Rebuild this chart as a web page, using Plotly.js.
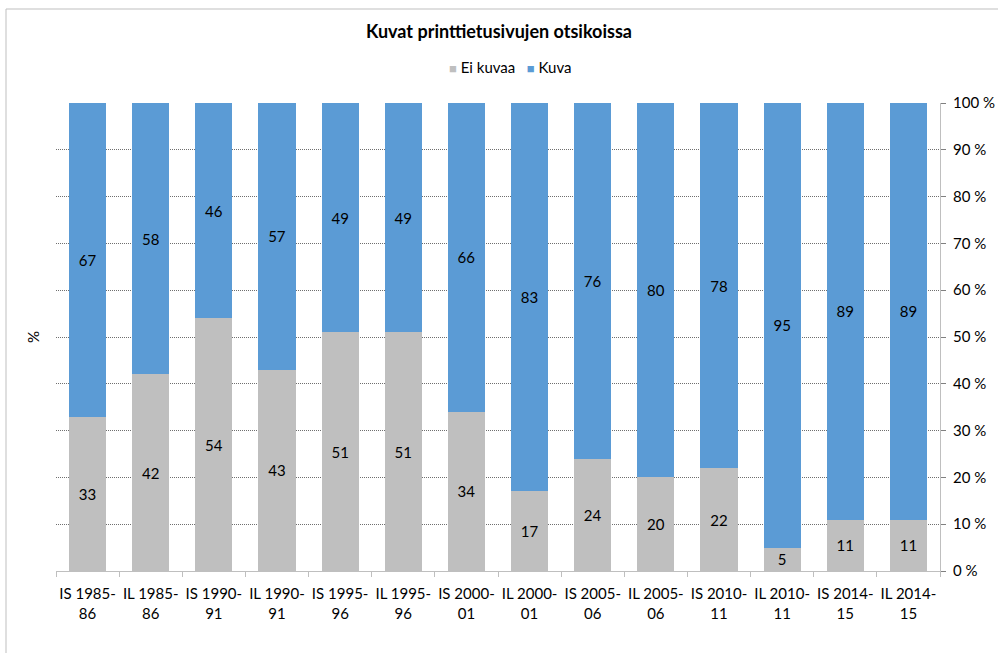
<!DOCTYPE html>
<html>
<head>
<meta charset="utf-8">
<script src="https://cdn.plot.ly/plotly-3.0.1.min.js"></script>
<style>html,body{margin:0;padding:0;background:#fff;}#chart{width:998px;height:653px;}</style>
</head>
<body>
<div id="chart"></div>
<script>
const categories = ["IS 1985-<br>86","IL 1985-<br>86","IS 1990-<br>91","IL 1990-<br>91","IS 1995-<br>96","IL 1995-<br>96","IS 2000-<br>01","IL 2000-<br>01","IS 2005-<br>06","IL 2005-<br>06","IS 2010-<br>11","IL 2010-<br>11","IS 2014-<br>15","IL 2014-<br>15"];
const eiKuvaa = [33,42,54,43,51,51,34,17,24,20,22,5,11,11];
const kuva = [67,58,46,57,49,49,66,83,76,80,78,95,89,89];
const seriesNames = ["Ei kuvaa","Kuva"];
const seriesColors = ["#BFBFBF","#5B9BD5"];
const yTicks = [0,10,20,30,40,50,60,70,80,90,100];
const yTickLabels = yTicks.map(v => v + " %");

const font = "Lato, Open Sans, sans-serif";
const traces = [eiKuvaa, kuva].map((vals, i) => ({
  type:"bar", name:seriesNames[i], x:categories, y:vals, text:vals.map(String),
  marker:{color:seriesColors[i]}, textposition:"inside", insidetextanchor:"middle", textangle:0,
  textfont:{color:"#000", size:15, family:font}, hoverinfo:"none", constraintext:"none"
}));
const legendText = seriesNames.map((n, i) =>
  `<span style="color:${seriesColors[i]};font-size:13px">■</span> ${n}`).join("&nbsp;&nbsp;&nbsp;");
const layout = {
  width:998, height:653,
  margin:{l:56, r:58, t:103, b:82},
  barmode:"stack", bargap:0.41,
  paper_bgcolor:"#fff", plot_bgcolor:"#fff",
  font:{family:font, size:15, color:"#000"},
  title:{text:"<b>Kuvat printtietusivujen otsikoissa</b>", x:0.5, xanchor:"center", y:0.951, yanchor:"middle", font:{size:18, family:font, color:"#000"}},
  showlegend:false,
  xaxis:{type:"category", tickson:"boundaries", ticks:"outside", ticklen:5, tickcolor:"#BFBFBF",
         showline:true, linecolor:"#BFBFBF", linewidth:1, showgrid:false, tickangle:0,
         ticklabelstandoff:9,
         tickfont:{size:15, family:font}, fixedrange:true},
  yaxis:{side:"right", range:[0,100], tickvals:yTicks, ticktext:yTickLabels, showgrid:true,
         gridcolor:"#6f6f6f", griddash:"1px,1px", gridwidth:1, zeroline:false,
         showline:true, linecolor:"#BFBFBF", ticks:"outside", ticklen:5, tickcolor:"#808080",
         ticklabelstandoff:4,
         tickfont:{size:15, family:font}, fixedrange:true},
  annotations:[
    {text:"%", xref:"paper", yref:"paper", x:(33-56)/884, xanchor:"center", y:0.5, yanchor:"middle", showarrow:false, textangle:-90, font:{size:15, family:font}},
    {text:legendText, xref:"paper", yref:"paper", x:(510-56)/884, xanchor:"center", y:(571-67)/468, yanchor:"middle", showarrow:false, font:{size:15, family:font, color:"#000"}}
  ],
  shapes:[{type:"rect", xref:"paper", yref:"paper", x0:(6-56)/884, x1:(1100-56)/884, y0:(571-700)/468, y1:(571-9)/468, line:{color:"#BFBFBF", width:1}, layer:"below"}]
};
Plotly.newPlot("chart", traces, layout, {displayModeBar:false, staticPlot:true});
</script>
</body>
</html>
